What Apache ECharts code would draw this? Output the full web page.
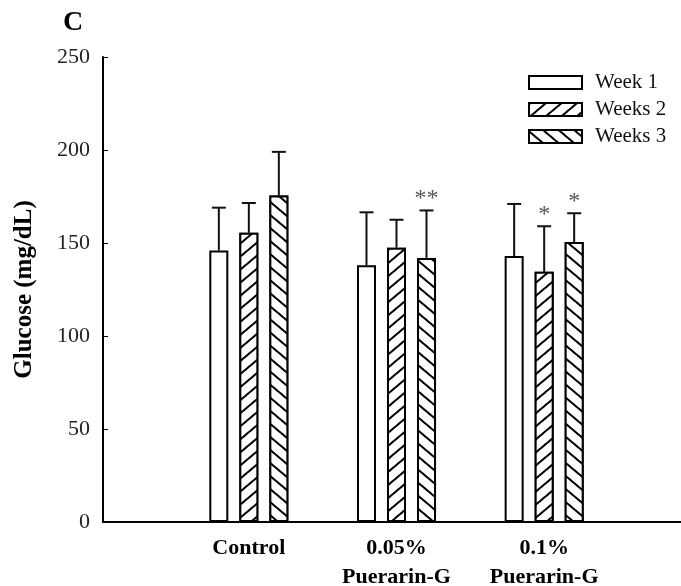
<!DOCTYPE html>
<html>
<head>
<meta charset="utf-8">
<script src="https://cdn.jsdelivr.net/npm/echarts@6/dist/echarts.min.js"></script>
<style>
  html, body { margin: 0; padding: 0; background: #fff; }
  #chart { width: 681px; height: 586px; }
</style>
</head>
<body>
<div id="chart"></div>
<script>
// data
const groups = ['Control', '0.05%\nPuerarin-G', '0.1%\nPuerarin-G']
const weekNames = ['Week 1', 'Weeks 2', 'Weeks 3']
const week1 = [146, 138, 143]
const week2 = [155.5, 147.5, 134.5]
const week3 = [175.5, 142, 150.5]
const sd1 = [23, 28.5, 28]
const sd2 = [16, 15, 24.5]
const sd3 = [23.5, 25.5, 15.5]
const sig1 = ['', '', '']
const sig2 = ['', '', '*']
const sig3 = ['', '**', '*']
const yTicks = [0, 50, 100, 150, 200, 250]

const means = [week1, week2, week3]
const sds = [sd1, sd2, sd3]
const sigs = [sig1, sig2, sig3]

const serif = 'Liberation Serif, Times New Roman, serif'

// hatch patterns
const decals = [
    null,
    { color: '#000', backgroundColor: '#fff', symbol: 'rect', symbolSize: 1, dashArrayX: [1, 0], dashArrayY: [2, 8], rotation: -Math.PI / 4.5 },
    { color: '#000', backgroundColor: '#fff', symbol: 'rect', symbolSize: 1, dashArrayX: [1, 0], dashArrayY: [2, 8], rotation: Math.PI / 4.5 },
]

const chart = echarts.init(document.getElementById('chart'))

const barSeries = weekNames.map((name, k) => ({
    name: name,
    type: 'bar',
    xAxisIndex: 1,
    yAxisIndex: 1,
    barWidth: 19,
    barGap: '58%',
    data: means[k],
    itemStyle: {
        color: '#fff',
        borderColor: '#000',
        borderWidth: 2,
        decal: decals[k] || undefined,
    },
    emphasis: { disabled: true },
    z: 2,
}))

// upper error bars + significance marks
const errSeries = weekNames.map((name, k) => ({
    type: 'custom',
    xAxisIndex: 1,
    yAxisIndex: 1,
    z: 3,
    silent: true,
    data: means[k].map((m, i) => [i, m, m + sds[k][i]]),
    renderItem: (params, api) => {
        const off = (k - 1) * 30
        const p0 = api.coord([api.value(0), api.value(1)])
        const p1 = api.coord([api.value(0), api.value(2)])
        const x = p0[0] + off
        const style = { stroke: '#111', lineWidth: 2 }
        const children = [
            { type: 'line', shape: { x1: x, y1: p0[1], x2: x, y2: p1[1] }, style },
            { type: 'line', shape: { x1: x - 7, y1: p1[1], x2: x + 7, y2: p1[1] }, style },
        ]
        const s = sigs[k][params.dataIndex]
        if (s) {
            children.push({
                type: 'text',
                style: {
                    text: s, x: x, y: p1[1] - 12, align: 'center', verticalAlign: 'middle',
                    fontSize: 24, fontFamily: serif, fill: '#555',
                },
            })
        }
        return { type: 'group', children }
    },
}))

const option = {
    backgroundColor: '#fff',
    animation: false,
    title: {
        text: 'C',
        left: 63,
        top: 9,
        padding: 0,
        textStyle: { fontFamily: serif, fontSize: 28, fontWeight: 'bold', color: '#000' },
    },
    legend: {
        orient: 'vertical',
        left: 528,
        top: 72,
        padding: 0,
        itemWidth: 53,
        itemHeight: 13,
        itemGap: 6,
        icon: 'rect',
        data: weekNames,
        textStyle: { fontFamily: serif, fontSize: 21, color: '#111', padding: [0, 0, 0, 8] },
        selectedMode: false,
    },
    grid: [
        { left: 103, right: 0, top: 57, bottom: 64, outerBoundsMode: 'none' },
        { left: 175, right: 63, top: 57, bottom: 64, outerBoundsMode: 'none' },
    ],
    xAxis: [
        {
            gridIndex: 0,
            type: 'value',
            min: 0,
            max: 1,
            axisLine: { show: true, lineStyle: { color: '#000', width: 2 } },
            axisTick: { show: false },
            axisLabel: { show: false },
            splitLine: { show: false },
        },
        {
            gridIndex: 1,
            type: 'category',
            data: groups,
            axisLine: { show: false },
            axisTick: { show: false },
            axisLabel: {
                interval: 0,
                margin: 12,
                fontFamily: serif,
                fontSize: 22,
                fontWeight: 'bold',
                color: '#000',
                lineHeight: 29,
            },
        },
    ],
    yAxis: [
        {
            gridIndex: 0,
            type: 'value',
            min: 0,
            max: 250,
            interval: 50,
            name: 'Glucose (mg/dL)',
            nameLocation: 'middle',
            nameGap: 66,
            nameTextStyle: { fontFamily: serif, fontSize: 25, fontWeight: 'bold', color: '#000' },
            axisLine: { show: true, lineStyle: { color: '#000', width: 2 } },
            axisTick: { show: true, inside: true, length: 5, lineStyle: { color: '#000', width: 1 } },
            axisLabel: {
                margin: 13,
                fontFamily: serif,
                fontSize: 22,
                color: '#222',
                formatter: (v) => (yTicks.includes(v) ? String(v) : ''),
            },
            splitLine: { show: false },
        },
        {
            gridIndex: 1,
            type: 'value',
            min: 0,
            max: 250,
            show: false,
        },
    ],
    series: barSeries.concat(errSeries),
}

chart.setOption(option)
</script>
</body>
</html>
